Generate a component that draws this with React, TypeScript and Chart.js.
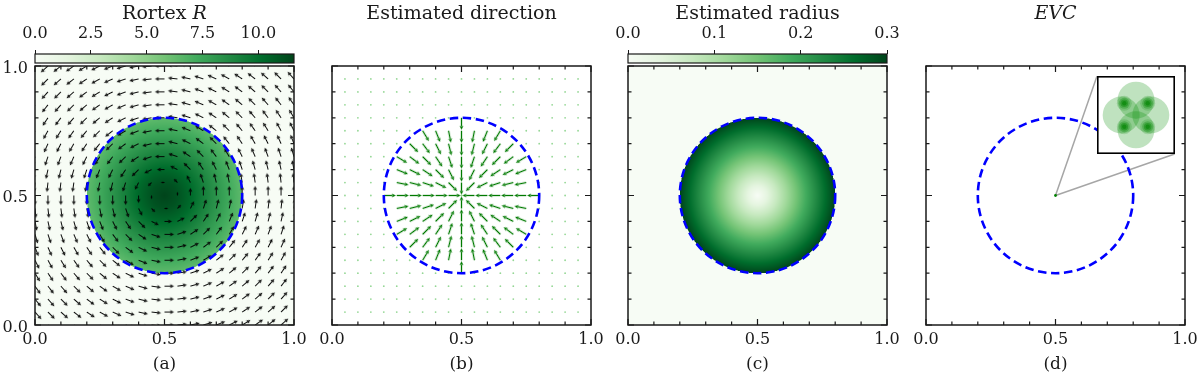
import React, { useEffect, useRef } from 'react';
import { Chart, registerables } from 'chart.js';

Chart.register(...registerables);

// ---------------- data ----------------
const AXIS_MAJOR = [0, 0.5, 1.0];
const AXIS_MINOR = [0.1, 0.2, 0.3, 0.4, 0.6, 0.7, 0.8, 0.9];
const PANEL_LABELS = ['(a)', '(b)', '(c)', '(d)'];
const PANEL_TITLES: [string, boolean][][] = [
  [['Rortex ', false], ['R', true]],
  [['Estimated direction', false]],
  [['Estimated radius', false]],
  [['EVC', true]],
];
const VORTEX_CENTER = [0.5, 0.5];
const VORTEX_RADIUS = 0.3;
const QUIVER_A_GRID = [0, 0.05, 0.1, 0.15, 0.2, 0.25, 0.3, 0.35, 0.4, 0.45, 0.5, 0.55, 0.6, 0.65, 0.7, 0.75, 0.8, 0.85, 0.9, 0.95, 1.0];
const QUIVER_B_GRID = [0.05, 0.1, 0.15, 0.2, 0.25, 0.3, 0.35, 0.4, 0.45, 0.5, 0.55, 0.6, 0.65, 0.7, 0.75, 0.8, 0.85, 0.9, 0.95];
const RORTEX_TICKS = [0, 2.5, 5.0, 7.5, 10.0];
const RORTEX_MAX = 11.6;
const RORTEX_PROFILE_R = [0, 0.05, 0.1, 0.15, 0.2, 0.25, 0.3];
const RORTEX_PROFILE_V = [11.6, 11.1, 10.3, 9.3, 8.3, 7.3, 6.4];
const RADIUS_TICKS = [0, 0.1, 0.2, 0.3];
const RADIUS_MAX = 0.3;
const RADIUS_PROFILE_R = [0, 0.1, 0.2, 0.3];
const RADIUS_PROFILE_V = [0, 0.1, 0.2, 0.3];
const EVC_POINTS = [{ x: 0.5, y: 0.5 }];
const INSET_LOBES = [{ x: 0, y: 0.38 }, { x: -0.38, y: 0 }, { x: 0.38, y: 0 }, { x: 0, y: -0.38 }];
const INSET_CORES = [{ x: -0.3, y: 0.3 }, { x: 0.3, y: 0.3 }, { x: -0.3, y: -0.3 }, { x: 0.3, y: -0.3 }];
const GREENS = ['#f7fcf5', '#e5f5e0', '#c7e9c0', '#a1d99b', '#74c476', '#41ab5d', '#238b45', '#006d2c', '#00441b'];

// ---------------- layout / style ----------------
const W = 1200;
const H = 377;
const PANEL_LEFTS = [35, 332, 628, 926];
const PANEL_TOP = 66;
const PANEL_SIZE = 259;
const PANEL_ML = 35;
const PANEL_MR = 20;
const CB_PAD = 20;
const CB_TOP = 54;
const CB_BOTTOM = 63;
const TITLE_BASELINE = 18.5;
const LABEL_BASELINE = 369;
const INSET = { x0: 0.66, x1: 0.96, y0: 0.66, y1: 0.96 };
const FONT_FAMILY = "'DejaVu Serif', serif";
const FS_TICK = 16;
const FS_LABEL = 17;
const FS_TITLE = 19;
const INK = '#1a1a1a';
const ARROW_A_LEN = 9.5;
const ARROW_A_CORE = 0.13;
const ARROW_B_LEN = 12;

// ---------------- helpers ----------------
const GREENS_RGB = GREENS.map((h) => [parseInt(h.slice(1, 3), 16), parseInt(h.slice(3, 5), 16), parseInt(h.slice(5, 7), 16)]);
function greens(t: number): number[] {
  const tt = Math.max(0, Math.min(1, t));
  const f = tt * (GREENS_RGB.length - 1);
  const i = Math.min(Math.floor(f), GREENS_RGB.length - 2);
  const u = f - i;
  const a = GREENS_RGB[i], b = GREENS_RGB[i + 1];
  return [a[0] + (b[0] - a[0]) * u, a[1] + (b[1] - a[1]) * u, a[2] + (b[2] - a[2]) * u];
}
function interp(xs: number[], ys: number[], v: number): number {
  if (v <= xs[0]) return ys[0];
  for (let i = 1; i < xs.length; i++) {
    if (v <= xs[i]) {
      const u = (v - xs[i - 1]) / (xs[i] - xs[i - 1]);
      return ys[i - 1] + (ys[i] - ys[i - 1]) * u;
    }
  }
  return ys[ys.length - 1];
}
const arrowCache = new Map<string, HTMLCanvasElement>();
function arrowImage(len: number, color: string, lw: number): HTMLCanvasElement {
  const L = Math.max(1, Math.round(len * 2) / 2);
  const key = color + '|' + L + '|' + lw;
  const hit = arrowCache.get(key);
  if (hit) return hit;
  const w = 2 * Math.ceil(L + 2);
  const h = 7;
  const c = document.createElement('canvas');
  c.width = w;
  c.height = h;
  const g = c.getContext('2d')!;
  const cx = w / 2, cy = h / 2;
  const headLen = Math.min(4, L * 0.6);
  const headHalf = Math.min(1.9, headLen * 0.55);
  g.strokeStyle = color;
  g.fillStyle = color;
  g.lineWidth = lw;
  g.beginPath();
  g.moveTo(cx, cy);
  g.lineTo(cx + L - headLen + 0.5, cy);
  g.stroke();
  g.beginPath();
  g.moveTo(cx + L, cy);
  g.lineTo(cx + L - headLen, cy - headHalf);
  g.lineTo(cx + L - headLen * 0.8, cy);
  g.lineTo(cx + L - headLen, cy + headHalf);
  g.closePath();
  g.fill();
  arrowCache.set(key, c);
  return c;
}
const deg = (vx: number, vy: number) => (Math.atan2(-vy, vx) * 180) / Math.PI;

function quiverA() {
  const pts: any[] = [], styles: any[] = [], rots: number[] = [];
  for (const gy of QUIVER_A_GRID) for (const gx of QUIVER_A_GRID) {
    const dx = gx - VORTEX_CENTER[0], dy = gy - VORTEX_CENTER[1];
    const d = Math.hypot(dx, dy);
    if (d < 1e-9) continue;
    pts.push({ x: gx, y: gy });
    styles.push(arrowImage(ARROW_A_LEN * Math.min(1, d / ARROW_A_CORE), '#000000', 0.95));
    rots.push(deg(-dy / d, dx / d));
  }
  return { pts, styles, rots };
}
function quiverB() {
  const pts: any[] = [], styles: any[] = [], rots: number[] = [], dots: any[] = [];
  for (const gy of QUIVER_B_GRID) for (const gx of QUIVER_B_GRID) {
    const dx = gx - VORTEX_CENTER[0], dy = gy - VORTEX_CENTER[1];
    const d = Math.hypot(dx, dy);
    if (d > 1e-9 && d <= VORTEX_RADIUS + 1e-9) {
      pts.push({ x: gx, y: gy });
      styles.push(arrowImage(ARROW_B_LEN, '#007a00', 1.3));
      rots.push(deg(-dx / d, -dy / d));
    } else {
      dots.push({ x: gx, y: gy });
    }
  }
  return { pts, styles, rots, dots };
}

function font(size: number, italic = false) {
  return `${italic ? 'italic ' : ''}${size}px ${FONT_FAMILY}`;
}

function drawField(chart: any, profR: number[], profV: number[], vmax: number) {
  const { ctx, chartArea: a, scales } = chart;
  const xs = scales.x, ys = scales.y;
  const w = Math.round(a.right - a.left), h = Math.round(a.bottom - a.top);
  const img = ctx.createImageData(w, h);
  const subs = [0.25, 0.75];
  for (let py = 0; py < h; py++) {
    for (let px = 0; px < w; px++) {
      let r = 0, g = 0, b = 0;
      for (const sy of subs) for (const sx of subs) {
        const dx = xs.getValueForPixel(a.left + px + sx) - VORTEX_CENTER[0];
        const dy = ys.getValueForPixel(a.top + py + sy) - VORTEX_CENTER[1];
        const d = Math.hypot(dx, dy);
        const v = d <= VORTEX_RADIUS ? interp(profR, profV, d) : 0;
        const c = greens(v / vmax);
        r += c[0]; g += c[1]; b += c[2];
      }
      const k = (py * w + px) * 4;
      img.data[k] = r / 4;
      img.data[k + 1] = g / 4;
      img.data[k + 2] = b / 4;
      img.data[k + 3] = 255;
    }
  }
  ctx.putImageData(img, Math.round(a.left), Math.round(a.top));
}

function drawText(ctx: CanvasRenderingContext2D, segs: [string, boolean][], size: number, cx: number, y: number) {
  ctx.save();
  ctx.fillStyle = INK;
  ctx.textBaseline = 'alphabetic';
  ctx.textAlign = 'left';
  let total = 0;
  for (const [t, it] of segs) { ctx.font = font(size, it); total += ctx.measureText(t).width; }
  let x = cx - total / 2;
  for (const [t, it] of segs) { ctx.font = font(size, it); ctx.fillText(t, x, y); x += ctx.measureText(t).width; }
  ctx.restore();
}

function panelPlugin(i: number, opts: { field?: 'rortex' | 'radius'; connectors?: boolean }) {
  return {
    id: 'panelDeco' + i,
    beforeDatasetsDraw(chart: any) {
      const { ctx, chartArea: a } = chart;
      ctx.save();
      ctx.fillStyle = '#ffffff';
      ctx.fillRect(a.left, a.top, a.right - a.left, a.bottom - a.top);
      ctx.restore();
      if (opts.field === 'rortex') drawField(chart, RORTEX_PROFILE_R, RORTEX_PROFILE_V, RORTEX_MAX);
      if (opts.field === 'radius') drawField(chart, RADIUS_PROFILE_R, RADIUS_PROFILE_V, RADIUS_MAX);
      if (opts.connectors) {
        const { x, y } = chart.scales;
        ctx.save();
        ctx.strokeStyle = '#a6a6a6';
        ctx.lineWidth = 1.5;
        const p0x = x.getPixelForValue(EVC_POINTS[0].x), p0y = y.getPixelForValue(EVC_POINTS[0].y);
        ctx.beginPath();
        ctx.moveTo(p0x, p0y);
        ctx.lineTo(x.getPixelForValue(INSET.x0), y.getPixelForValue(INSET.y1));
        ctx.moveTo(p0x, p0y);
        ctx.lineTo(x.getPixelForValue(INSET.x1), y.getPixelForValue(INSET.y0));
        ctx.stroke();
        ctx.restore();
      }
    },
    afterDatasetsDraw(chart: any) {
      const { ctx, scales } = chart;
      const { x, y } = scales;
      const cx = x.getPixelForValue(VORTEX_CENTER[0]);
      const cy = y.getPixelForValue(VORTEX_CENTER[1]);
      const rx = x.getPixelForValue(VORTEX_CENTER[0] + VORTEX_RADIUS) - cx;
      const ry = cy - y.getPixelForValue(VORTEX_CENTER[1] + VORTEX_RADIUS);
      ctx.save();
      ctx.strokeStyle = '#0000ff';
      ctx.lineWidth = 2.6;
      ctx.setLineDash([8.5, 4.6]);
      ctx.beginPath();
      ctx.ellipse(cx, cy, rx, ry, 0, 0, Math.PI * 2);
      ctx.stroke();
      ctx.restore();
    },
    afterDraw(chart: any) {
      const { ctx, chartArea: a, scales } = chart;
      const { x, y } = scales;
      ctx.save();
      ctx.strokeStyle = INK;
      ctx.lineWidth = 1.2;
      ctx.beginPath();
      for (const v of [...AXIS_MAJOR, ...AXIS_MINOR]) {
        const len = AXIS_MAJOR.includes(v) ? 6 : 3.5;
        const px = x.getPixelForValue(v);
        const py = y.getPixelForValue(v);
        ctx.moveTo(px, a.bottom); ctx.lineTo(px, a.bottom - len);
        ctx.moveTo(px, a.top); ctx.lineTo(px, a.top + len);
        ctx.moveTo(a.left, py); ctx.lineTo(a.left + len, py);
        ctx.moveTo(a.right, py); ctx.lineTo(a.right - len, py);
      }
      ctx.stroke();
      ctx.lineWidth = 1.5;
      ctx.strokeRect(a.left, a.top, a.right - a.left, a.bottom - a.top);
      ctx.restore();
      const mid = (a.left + a.right) / 2;
      drawText(ctx, PANEL_TITLES[i], FS_TITLE, mid, TITLE_BASELINE);
      drawText(ctx, [[PANEL_LABELS[i], false]], FS_LABEL, mid, LABEL_BASELINE);
    },
  };
}

function panelConfig(i: number): any {
  const datasets: any[] = [];
  let opts: any = {};
  if (i === 0) {
    const q = quiverA();
    datasets.push({ data: q.pts, pointStyle: q.styles, rotation: q.rots, radius: 3, clip: 0 });
    opts = { field: 'rortex' };
  } else if (i === 1) {
    const q = quiverB();
    datasets.push({ data: q.dots, pointStyle: 'circle', radius: 0.9, backgroundColor: 'rgba(0,160,0,0.42)', borderWidth: 0, clip: 0 });
    datasets.push({ data: q.pts, pointStyle: q.styles, rotation: q.rots, radius: 3, clip: 0 });
  } else if (i === 2) {
    opts = { field: 'radius' };
  } else {
    datasets.push({ data: EVC_POINTS, pointStyle: 'circle', radius: 1.4, backgroundColor: '#008000', borderWidth: 0, clip: 0 });
    opts = { connectors: true };
  }
  return {
    type: 'scatter',
    data: { datasets },
    options: {
      responsive: false,
      animation: false,
      devicePixelRatio: 1,
      events: [],
      layout: { autoPadding: false, padding: { left: 0, right: PANEL_MR, top: PANEL_TOP, bottom: 0 } },
      plugins: { legend: { display: false }, tooltip: { enabled: false }, title: { display: false } },
      scales: {
        x: {
          type: 'linear', min: 0, max: 1, position: 'bottom',
          afterBuildTicks: (s: any) => { s.ticks = AXIS_MAJOR.map((v) => ({ value: v })); },
          afterFit: (s: any) => { s.height = H - PANEL_TOP - PANEL_SIZE; },
          grid: { display: false, drawTicks: false },
          border: { display: false },
          ticks: { padding: 5, color: INK, font: { family: FONT_FAMILY, size: FS_TICK }, maxRotation: 0, autoSkip: false, callback: (v: any) => Number(v).toFixed(1) },
        },
        y: {
          type: 'linear', min: 0, max: 1, position: 'left',
          afterBuildTicks: (s: any) => { s.ticks = AXIS_MAJOR.map((v) => ({ value: v })); },
          afterFit: (s: any) => { s.width = PANEL_ML; },
          grid: { display: false, drawTicks: false },
          border: { display: false },
          ticks: { display: i === 0, padding: 7, labelOffset: 2.5, color: INK, font: { family: FONT_FAMILY, size: FS_TICK }, autoSkip: false, callback: (v: any) => Number(v).toFixed(1) },
        },
      },
    },
    plugins: [panelPlugin(i, opts)],
  };
}

function colorbarConfig(ticks: number[], max: number): any {
  return {
    type: 'scatter',
    data: { datasets: [] },
    options: {
      responsive: false,
      animation: false,
      devicePixelRatio: 1,
      events: [],
      layout: { autoPadding: false, padding: { left: CB_PAD, right: CB_PAD, top: 20, bottom: PANEL_TOP - CB_BOTTOM } },
      plugins: { legend: { display: false }, tooltip: { enabled: false } },
      scales: {
        x: {
          type: 'linear', min: 0, max, position: 'top',
          afterBuildTicks: (s: any) => { s.ticks = ticks.map((v) => ({ value: v })); },
          afterFit: (s: any) => { s.height = CB_TOP - 20; },
          grid: { display: true, drawOnChartArea: false, drawTicks: true, tickLength: 4, color: INK, lineWidth: 1 },
          border: { display: false },
          ticks: { padding: 6.4, color: INK, font: { family: FONT_FAMILY, size: FS_TICK }, maxRotation: 0, autoSkip: false, callback: (v: any) => Number(v).toFixed(1) },
        },
        y: { display: false, min: 0, max: 1 },
      },
    },
    plugins: [{
      id: 'cbFill',
      beforeDatasetsDraw(chart: any) {
        const { ctx, chartArea: a, scales } = chart;
        ctx.save();
        for (let px = Math.round(a.left); px < Math.round(a.right); px++) {
          const v = scales.x.getValueForPixel(px + 0.5);
          const c = greens(v / max);
          ctx.fillStyle = `rgb(${c[0] | 0},${c[1] | 0},${c[2] | 0})`;
          ctx.fillRect(px, a.top, 1, a.bottom - a.top);
        }
        ctx.restore();
      },
      afterDraw(chart: any) {
        const { ctx, chartArea: a } = chart;
        ctx.save();
        ctx.strokeStyle = INK;
        ctx.lineWidth = 1.2;
        ctx.strokeRect(a.left, a.top, a.right - a.left, a.bottom - a.top);
        ctx.restore();
      },
    }],
  };
}

function insetConfig(): any {
  const bubble = (pts: any[], r: number, color: string) => ({
    type: 'bubble',
    data: pts.map((p) => ({ x: p.x, y: p.y, r })),
    backgroundColor: color,
    borderWidth: 0,
    clip: false,
  });
  return {
    type: 'bubble',
    data: {
      datasets: [
        bubble(INSET_LOBES, 18.5, 'rgba(0,140,0,0.25)'),
        bubble(INSET_CORES, 7.5, 'rgba(0,128,0,0.18)'),
        bubble(INSET_CORES, 5.5, 'rgba(0,128,0,0.3)'),
        bubble(INSET_CORES, 3.8, 'rgba(0,128,0,0.42)'),
        bubble(INSET_CORES, 2.2, 'rgba(0,115,0,0.55)'),
      ],
    },
    options: {
      responsive: false,
      animation: false,
      devicePixelRatio: 1,
      events: [],
      layout: { autoPadding: false, padding: 0 },
      plugins: { legend: { display: false }, tooltip: { enabled: false } },
      scales: { x: { display: false, min: -1, max: 1 }, y: { display: false, min: -1, max: 1 } },
    },
    plugins: [{
      id: 'insetFrame',
      beforeDatasetsDraw(chart: any) {
        const { ctx } = chart;
        ctx.save();
        ctx.fillStyle = '#ffffff';
        ctx.fillRect(0, 0, chart.width, chart.height);
        ctx.restore();
      },
      afterDraw(chart: any) {
        const { ctx } = chart;
        ctx.save();
        ctx.strokeStyle = '#000000';
        ctx.lineWidth = 1.6;
        ctx.strokeRect(0.8, 0.8, chart.width - 1.6, chart.height - 1.6);
        ctx.restore();
      },
    }],
  };
}

function ChartBox(props: { make: () => any; left: number; top: number; width: number; height: number }) {
  const ref = useRef<HTMLCanvasElement>(null);
  useEffect(() => {
    const chart = new Chart(ref.current as HTMLCanvasElement, props.make());
    return () => chart.destroy();
  }, []);
  const { left, top, width, height } = props;
  return (
    <canvas ref={ref} width={width} height={height}
      style={{ position: 'absolute', left, top, width, height, display: 'block' }} />
  );
}

export default function App() {
  useEffect(() => { document.body.style.margin = '0'; }, []);
  const insetLeft = PANEL_LEFTS[3] + INSET.x0 * PANEL_SIZE;
  const insetTop = PANEL_TOP + (1 - INSET.y1) * PANEL_SIZE;
  const insetW = (INSET.x1 - INSET.x0) * PANEL_SIZE;
  const insetH = (INSET.y1 - INSET.y0) * PANEL_SIZE;
  return (
    <div style={{ position: 'fixed', left: 0, top: 0, width: W, height: H, background: '#ffffff', overflow: 'hidden' }}>
      {PANEL_LEFTS.map((pl, i) => (
        <ChartBox key={'p' + i} make={() => panelConfig(i)} left={pl - PANEL_ML} top={0}
          width={PANEL_ML + PANEL_SIZE + PANEL_MR} height={H} />
      ))}
      <ChartBox make={() => colorbarConfig(RORTEX_TICKS, RORTEX_MAX)} left={PANEL_LEFTS[0] - CB_PAD} top={0}
        width={PANEL_SIZE + 2 * CB_PAD} height={PANEL_TOP} />
      <ChartBox make={() => colorbarConfig(RADIUS_TICKS, RADIUS_MAX)} left={PANEL_LEFTS[2] - CB_PAD} top={0}
        width={PANEL_SIZE + 2 * CB_PAD} height={PANEL_TOP} />
      <ChartBox make={insetConfig} left={Math.round(insetLeft)} top={Math.round(insetTop)}
        width={Math.round(insetW)} height={Math.round(insetH)} />
    </div>
  );
}
